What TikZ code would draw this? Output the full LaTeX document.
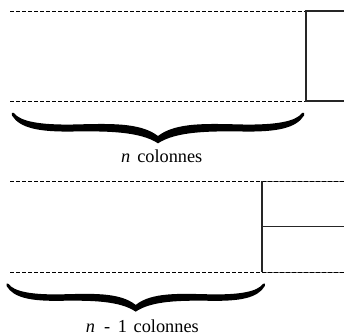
\documentclass[tikz,border=0pt]{standalone}
\usepackage{fontspec}
\setmainfont{Liberation Serif}
\newcommand{\mybracefill}{%
  \fill (-144,0.5) .. controls (-138,9) and (-118,12.5) .. (-85,12)
        .. controls (-50,11.2) and (-18,9.5) .. (0,23.5)
        .. controls (18,9.5) and (50,11.2) .. (85,12)
        .. controls (118,12.5) and (138,9) .. (144,0.5)
        .. controls (145.5,-1) and (147.5,1) .. (146,3)
        .. controls (138,16) and (118,19.5) .. (85,19)
        .. controls (50,18.5) and (18,19) .. (0,30.8)
        .. controls (-18,19) and (-50,18.5) .. (-85,19)
        .. controls (-118,19.5) and (-138,16) .. (-146,3)
        .. controls (-147.5,1) and (-145.5,-1) .. (-144,0.5) -- cycle;}
\tikzset{
  dotline/.style={line width=0.9pt, dash pattern=on 3.5pt off 2.5pt},
  solidline/.style={line width=1.2pt, black!85},
  greyline/.style={line width=1pt, black!55},
  lbl/.style={anchor=base west, inner sep=0pt, font=\fontsize{18.3}{22}\selectfont}
}
\begin{document}
\begin{tikzpicture}[x=1pt,y=-1pt]
\useasboundingbox (0,0) rectangle (344,335);
% top section
\coordinate (a1) at (10,11);
\coordinate (a2) at (306,11);
\coordinate (a3) at (344,11);
\coordinate (b1) at (10,101);
\coordinate (b2) at (306,101);
\coordinate (b3) at (344,101);
\draw[dotline] (a1) -- (a2);
\draw[dotline] (b1) -- (b2);
\draw[solidline] (a3) -- (a2) -- (b2) -- (b3);
\begin{scope}[shift={(158,112.5)}]
\mybracefill
\end{scope}
\node[lbl] (t1) at (121,162) {\textit{n}\hspace{0.38em}colonnes};
% bottom section
\coordinate (c1) at (10,181);
\coordinate (c2) at (262,181);
\coordinate (c3) at (344,181);
\coordinate (d1) at (10,272.3);
\coordinate (d2) at (262,272.3);
\coordinate (d3) at (344,272.3);
\coordinate (m2) at (262,226.7);
\coordinate (m3) at (344,226.7);
\draw[greyline] (c2) -- (c3);
\draw[greyline] (d2) -- (d3);
\draw[dotline] (c1) -- (c3);
\draw[dotline] (d1) -- (d3);
\draw[solidline] (c2) -- (d2);
\draw[solidline] (m2) -- (m3);
\begin{scope}[shift={(135.7,283.3)}, xscale=0.884, yscale=0.92]
\mybracefill
\end{scope}
\node[lbl] (t2) at (85.7,332.5) {\textit{n}\hspace{0.5em}-\hspace{0.42em}1\hspace{0.36em}colonnes};
\end{tikzpicture}
\end{document}
